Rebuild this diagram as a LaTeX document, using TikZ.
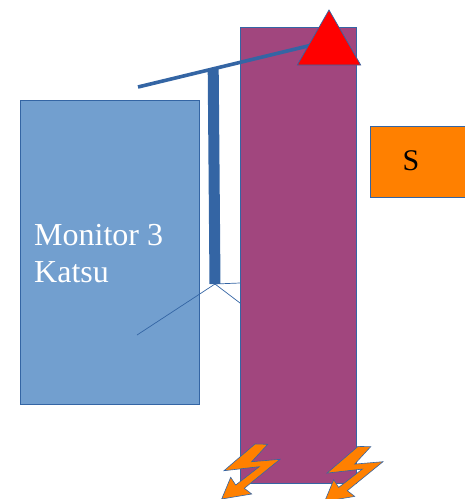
\documentclass[tikz,border=0pt]{standalone}
\usepackage{fontspec}
\setmainfont{Liberation Serif}
\usetikzlibrary{positioning}
\definecolor{panelblue}{HTML}{729FCF}
\definecolor{edgeblue}{HTML}{3465A4}
\definecolor{plumfill}{HTML}{A1467E}
\definecolor{orangefill}{HTML}{FF8000}
\tikzset{
    x=1pt,
    y=-1pt,
    block/.style={rectangle,draw=edgeblue,inner sep=0pt,outer sep=0pt,line width=0.7pt},
    thin link/.style={draw=edgeblue,line width=0.7pt},
    thick link/.style={draw=edgeblue,line width=3.6pt},
    post link/.style={draw=edgeblue,line width=11pt},
    marker/.style={draw=edgeblue,line width=0.7pt,fill=red},
    bolt/.style={draw=edgeblue,line width=0.6pt,fill=orangefill}
}

\begin{document}
\begin{tikzpicture}
    \useasboundingbox (0,0) rectangle (465,499);
    \clip (0,0) rectangle (465,499);
    \node[block,fill=panelblue,minimum width=179.4pt,minimum height=304pt] (monitor) at (109.8,252) {};
    \node[block,fill=plumfill,minimum width=115.8pt,minimum height=456pt] (column) at (298.1,255) {};
    \node[block,fill=orangefill,minimum width=96pt,minimum height=71pt] (sensor) at (418,161.5) {};
    \node[font=\fontsize{30}{30}\selectfont] (sensorlabel) at (411,161) {S};
    \node[font=\fontsize{32}{37}\selectfont,text=white,align=left,anchor=west,inner sep=0pt] (monitorlabel) at (34,253.5) {Monitor 3\\Katsu};

    \coordinate (beamleft) at (138,87);
    \coordinate (beamright) at (312,45);
    \coordinate (posttop) at (213.2,69);
    \coordinate (postfoot) at (215,284);
    \coordinate (strutleft) at (137,335);
    \coordinate (strutlow) at (240,303);
    \coordinate (strutflat) at (240,283);
    \path[post link] (posttop) -- (postfoot);
    \path[thick link] (beamleft) edge (beamright);
    \path[thin link]
        (postfoot) edge (strutleft)
        (postfoot) edge (strutlow)
        (postfoot) edge (strutflat)
        ;
    \draw[marker] (329,10) -- (360.7,65) -- (297.3,65) -- cycle;
    \foreach \dx/\dy in {0/0,103/2.4}
        \draw[bolt,shift={(\dx,\dy)}] (255,444) -- (267.7,444.3) -- (251.7,461.7) -- (280,459.3)
            -- (244.3,488.3) -- (251.7,494) -- (221.7,499) -- (230.7,477.3) -- (235.7,485)
            -- (259.3,466.7) -- (224,470.7) -- cycle;
\end{tikzpicture}
\end{document}
